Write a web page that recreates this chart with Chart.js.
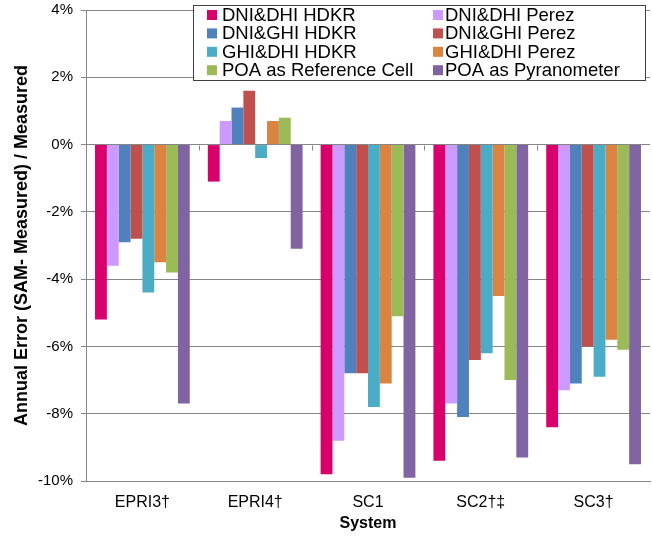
<!DOCTYPE html>
<html>
<head>
<meta charset="utf-8">
<script src="https://cdn.jsdelivr.net/npm/chart.js@4.4.1/dist/chart.umd.min.js"></script>
<style>
  html, body { margin: 0; padding: 0; background: #fff; }
  #wrap { width: 652px; height: 538px; position: relative; }
</style>
</head>
<body>
<div id="wrap"><canvas id="errChart"></canvas></div>
<script>
// systems on the x axis
const systems = ['EPRI3†', 'EPRI4†', 'SC1', 'SC2†‡', 'SC3†'];

// annual error in %, one array per model
const dniDhiHdkr  = [-5.2, -1.1, -9.8, -9.4, -8.4];
const dniDhiPerez = [-3.6,  0.7, -8.8, -7.7, -7.3];
const dniGhiHdkr  = [-2.9,  1.1, -6.8, -8.1, -7.1];
const dniGhiPerez = [-2.8,  1.6, -6.8, -6.4, -6.0];
const ghiDhiHdkr  = [-4.4, -0.4, -7.8, -6.2, -6.9];
const ghiDhiPerez = [-3.5,  0.7, -7.1, -4.5, -5.8];
const poaRefCell  = [-3.8,  0.8, -5.1, -7.0, -6.1];
const poaPyran    = [-7.7, -3.1, -9.9, -9.3, -9.5];

const yTicks = [-10, -8, -6, -4, -2, 0, 2, 4];

const FONT = '"Liberation Sans", Arial, sans-serif';
const GRID = '#868686';

// legend in a box over the plot, two columns like the original
const boxLegend = {
    id: 'boxLegend',
    afterDraw(chart) {
        const ctx = chart.ctx;
        ctx.save();
        ctx.fillStyle = '#fff';
        ctx.fillRect(193.5, 5.5, 452, 75);
        ctx.strokeStyle = '#404040';
        ctx.lineWidth = 1;
        ctx.strokeRect(193.5, 5.5, 452, 75);
        ctx.font = '18.5px ' + FONT;
        ctx.textBaseline = 'middle';
        chart.data.datasets.forEach(function(ds, i) {
            const right = i % 2 === 1;
            const x = right ? 433 : 207;
            const y = 15 + Math.floor(i / 2) * 18.4;
            ctx.fillStyle = ds.backgroundColor;
            ctx.fillRect(x, y - 5, 10, 10);
            ctx.fillStyle = '#000';
            ctx.fillText(ds.label, right ? 445 : 222, y + 1);
        });
        ctx.restore();
    }
};

// little category tick marks hanging under the 0% line
const zeroTicks = {
    id: 'zeroTicks',
    afterDatasetsDraw(chart) {
        const xs = chart.scales.x, ys = chart.scales.y;
        const y0 = Math.round(ys.getPixelForValue(0)) + 0.5;
        const ctx = chart.ctx;
        ctx.save();
        ctx.strokeStyle = GRID;
        ctx.lineWidth = 1;
        ctx.beginPath();
        for (let i = 0; i < systems.length - 1; i++) {
            const xm = Math.round((xs.getPixelForValue(i) + xs.getPixelForValue(i + 1)) / 2) + 0.5;
            ctx.moveTo(xm, y0);
            ctx.lineTo(xm, y0 + 5);
        }
        ctx.stroke();
        ctx.restore();
    }
};

function series(label, data, color) {
    return {
        label: label,
        data: data,
        backgroundColor: color,
        borderWidth: 0,
        categoryPercentage: 0.84,
        barPercentage: 1.0
    };
}

new Chart(document.getElementById('errChart'), {
    type: 'bar',
    data: {
        labels: systems,
        datasets: [
            series('DNI&DHI HDKR', dniDhiHdkr, '#D9006C'),
            series('DNI&DHI Perez', dniDhiPerez, '#CC99FF'),
            series('DNI&GHI HDKR', dniGhiHdkr, '#4F81BD'),
            series('DNI&GHI Perez', dniGhiPerez, '#C0504D'),
            series('GHI&DHI HDKR', ghiDhiHdkr, '#4BACC6'),
            series('GHI&DHI Perez', ghiDhiPerez, '#DB8340'),
            series('POA as Reference Cell', poaRefCell, '#9BBB59'),
            series('POA as Pyranometer', poaPyran, '#8064A2')
        ]
    },
    options: {
        responsive: true,
        maintainAspectRatio: false,
        animation: false,
        layout: { padding: { top: 10, right: 2, left: 0, bottom: 0 } },
        plugins: {
            legend: { display: false },
            tooltip: { enabled: false }
        },
        scales: {
            x: {
                grid: { display: false },
                border: { display: true, color: GRID },
                ticks: { color: '#000', font: { family: FONT, size: 16 }, padding: 4 },
                title: {
                    display: true, text: 'System', color: '#000',
                    font: { family: FONT, size: 16, weight: 'bold' },
                    padding: { top: 0, bottom: 5 }
                },
                afterFit: function(s) { s.height = 57; }
            },
            y: {
                min: -10,
                max: 4,
                afterBuildTicks: function(s) { s.ticks = yTicks.map(v => ({ value: v })); },
                grid: { color: GRID, tickLength: 5 },
                border: { display: true, color: GRID },
                ticks: {
                    color: '#000', font: { family: FONT, size: 15 }, padding: 8,
                    callback: v => v + '%'
                },
                title: {
                    display: true, text: 'Annual Error (SAM- Measured) / Measured', color: '#000',
                    font: { family: FONT, size: 18, weight: 'bold' },
                    padding: { top: 11, bottom: 0 }
                },
                afterFit: function(s) {
                    s.width = 86;
                    s.paddingTop = 0;
                    s.paddingBottom = 0;
                }
            }
        }
    },
    plugins: [zeroTicks, boxLegend]
});
</script>
</body>
</html>
